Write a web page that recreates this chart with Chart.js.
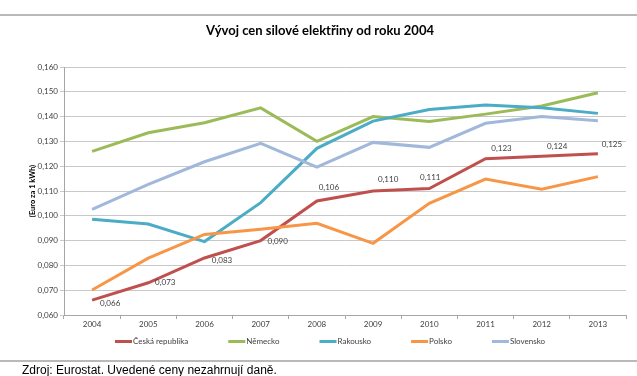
<!DOCTYPE html>
<html><head><meta charset="utf-8">
<script src="https://cdn.jsdelivr.net/npm/chart.js@4/dist/chart.umd.min.js"></script>
<style>
html,body{margin:0;padding:0;background:#fff;}
#wrap{position:relative;width:637px;height:376px;overflow:hidden;background:#fff;}
canvas{position:absolute;left:0;top:0;}
#footer{position:absolute;left:22px;top:363px;font:12px "Liberation Sans",Arial,sans-serif;color:#000;white-space:nowrap;line-height:14px;}
</style></head><body>
<div id="wrap"><canvas id="c" width="637" height="376"></canvas><div id="footer">Zdroj: Eurostat. Uvedené ceny nezahrnují daně.</div></div>
<script>
const years = ['2004','2005','2006','2007','2008','2009','2010','2011','2012','2013'];
const ceskaRepublika = [0.066,0.073,0.083,0.090,0.106,0.110,0.111,0.123,0.124,0.125];
const nemecko = [0.126,0.1335,0.1375,0.1435,0.130,0.140,0.138,0.141,0.1443,0.1496];
const rakousko = [0.0986,0.0967,0.0896,0.1053,0.1272,0.1382,0.1429,0.1447,0.1436,0.1413];
const polsko = [0.0701,0.0829,0.0925,0.0946,0.097,0.0889,0.105,0.1148,0.1107,0.1158];
const slovensko = [0.1026,0.1127,0.1218,0.1292,0.1196,0.1296,0.1276,0.1373,0.140,0.1383];
const seriesNames = ['Česká republika','Německo','Rakousko','Polsko','Slovensko'];
const yMin = 0.06, yMax = 0.16, yStep = 0.01;
const chartTitle = 'Vývoj cen silové elektřiny od roku 2004';
const yTitle = '(Euro za 1 kWh)';

const colors = ['#C0504D','#9BBB59','#4BACC6','#F79646','#A2B8DB'];
const seriesValues = [ceskaRepublika, nemecko, rakousko, polsko, slovensko];
const fmt = v => v.toFixed(3).replace('.', ',');

const decorPlugin = {
  id: 'decor',
  beforeDraw(chart) {
    const ctx = chart.ctx;
    ctx.save();
    ctx.fillStyle = '#fff';
    ctx.fillRect(0, 0, chart.width, chart.height);
    ctx.fillStyle = '#b9b9b9';
    ctx.fillRect(0, 14, chart.width, 2);
    ctx.fillRect(0, 360, chart.width, 2);
    ctx.fillStyle = '#000';
    ctx.font = 'bold 13px Lato';
    ctx.textAlign = 'center';
    ctx.textBaseline = 'middle';
    ctx.fillText(chartTitle, 320, 31);
    ctx.restore();
  },
  afterDraw(chart) {
    const ctx = chart.ctx;
    ctx.save();
    ctx.font = '8px Lato';
    ctx.textBaseline = 'middle';
    ctx.textAlign = 'left';
    let x = 115;
    const y = 341.5;
    chart.data.datasets.forEach(ds => {
      ctx.strokeStyle = ds.borderColor;
      ctx.lineWidth = 3;
      ctx.beginPath();
      ctx.moveTo(x, y);
      ctx.lineTo(x + 17, y);
      ctx.stroke();
      ctx.fillStyle = '#404040';
      ctx.fillText(ds.label, x + 18, y);
      x += 18 + ctx.measureText(ds.label).width + 40;
    });
    ctx.restore();
  },
  afterDatasetsDraw(chart, args, opts) {
    const ctx = chart.ctx;
    const meta = chart.getDatasetMeta(0);
    const ds = chart.data.datasets[0];
    ctx.save();
    ctx.font = '8px Lato';
    ctx.fillStyle = '#404040';
    ctx.textAlign = 'center';
    ctx.textBaseline = 'middle';
    meta.data.forEach((pt, i) => {
      const off = opts.offsets[i];
      ctx.fillText(fmt(ds.data[i]), pt.x + off[0], pt.y + off[1]);
    });
    ctx.restore();
  }
};

new Chart(document.getElementById('c'), {
  type: 'line',
  data: {
    labels: years,
    datasets: seriesNames.map((n, i) => ({
      label: n,
      data: seriesValues[i],
      borderColor: colors[i],
      backgroundColor: colors[i],
      borderWidth: 3,
      pointRadius: 0,
      tension: 0,
      fill: false,
      order: 4 - i
    }))
  },
  options: {
    responsive: false,
    animation: false,
    layout: { padding: { top: 67, right: 11, bottom: 0, left: 0 } },
    plugins: {
      legend: { display: false },
      title: { display: false },
      tooltip: { enabled: false },
      decor: {
        offsets: [[18,3],[17,0],[17.5,2.5],[17,1],[12,-13],[15,-12],[1,-11],[16,-10.5],[15.5,-10],[14,-9]]
      }
    },
    scales: {
      x: {
        offset: true,
        grid: { offset: true, drawOnChartArea: false, drawTicks: true, tickLength: 4, color: '#a6a6a6' },
        border: { color: '#a6a6a6' },
        ticks: { font: { family: 'Lato', size: 8 }, color: '#404040', padding: 1, maxRotation: 0 },
        afterFit(s) { s.height = 61; }
      },
      y: {
        min: yMin, max: yMax,
        grid: { color: '#c8c8c8', tickLength: 4 },
        border: { color: '#a6a6a6' },
        ticks: { stepSize: yStep, font: { family: 'Lato', size: 8 }, color: '#404040', padding: 2,
          callback: v => fmt(v) },
        title: { display: true, text: yTitle, font: { family: 'Lato', size: 7.5, weight: 'bold' }, color: '#000', padding: { top: 28.5, bottom: 0 } },
        afterFit(s) { s.width = 64; }
      }
    }
  },
  plugins: [decorPlugin]
});
</script>
</body></html>
